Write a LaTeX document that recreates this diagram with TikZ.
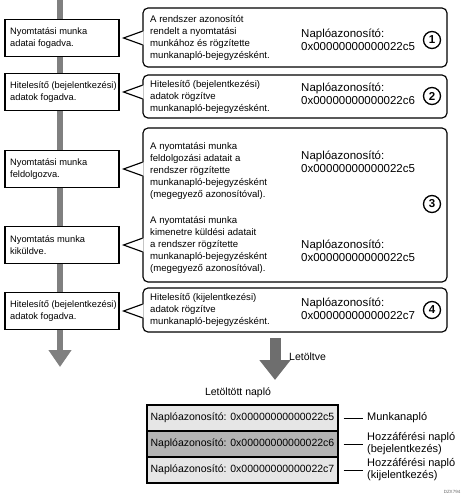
\documentclass[tikz,border=0pt]{standalone}
\usepackage{fontspec}
\setmainfont{Liberation Sans}
\usetikzlibrary{calc,arrows.meta}
\definecolor{barcol}{HTML}{808080}
\definecolor{arrcol}{HTML}{6E6E6E}
\definecolor{rowlight}{HTML}{E6E6E6}
\definecolor{rowdark}{HTML}{B4B4B4}
\begin{document}
\begin{tikzpicture}[x=1pt,y=-1pt,
  lbox/.style={draw,line width=1.15pt,fill=white,minimum width=114pt,minimum height=37pt,inner sep=0pt},
  ltext/.style={anchor=west,align=left,inner sep=0pt,font=\fontsize{9.3}{11.5}\selectfont},
  rbox/.style={draw,line width=1.15pt,fill=white,rounded corners=5pt,minimum width=304pt,inner sep=0pt},
  ctext/.style={anchor=west,align=left,inner sep=0pt,font=\fontsize{9.6}{12}\selectfont},
  idtext/.style={anchor=west,align=left,inner sep=0pt,font=\fontsize{11.5}{13.5}\selectfont},
  num/.style={circle,draw,line width=1.3pt,minimum size=17pt,inner sep=0pt,font=\fontsize{11.5}{12}\selectfont\bfseries},
  rowbox/.style={draw,line width=1.15pt,minimum width=191pt,minimum height=26pt,inner sep=0pt,font=\fontsize{10.5}{12}\selectfont},
  sidelab/.style={anchor=west,align=left,inner sep=0pt,font=\fontsize{11}{12}\selectfont},
  plain/.style={inner sep=0pt,font=\fontsize{10.5}{12}\selectfont}
]
\useasboundingbox (0,0) rectangle (467,498);

% main time line
\coordinate (bartop) at (60,0);
\coordinate (barend) at (60,367);
\draw[barcol,line width=6.8pt,-{Triangle[width=22pt,length=17pt]}] (bartop) -- (barend);

% left boxes
\node[lbox] (l1) at (62,38) {};
\node[lbox] (l2) at (62,92) {};
\node[lbox] (l3) at (62,169) {};
\node[lbox] (l4) at (62,245) {};
\node[lbox] (l5) at (62,311) {};
\node[ltext] (lt1) at (10,38) {Nyomtatási munka\\adatai fogadva.};
\node[ltext] (lt2) at (10,92) {Hitelesítő (bejelentkezési)\\adatok fogadva.};
\node[ltext] (lt3) at (10,169) {Nyomtatási munka\\feldolgozva.};
\node[ltext] (lt4) at (10,245) {Nyomtatás munka\\kiküldve.};
\node[ltext] (lt5) at (10,311) {Hitelesítő (bejelentkezési)\\adatok fogadva.};

% right callout boxes
\node[rbox,minimum height=59pt] (r1) at (295,37.5) {};
\node[rbox,minimum height=43pt] (r2) at (295,96.5) {};
\node[rbox,minimum height=154pt] (r3) at (295,205) {};
\node[rbox,minimum height=44pt] (r4) at (295,310) {};

% callout pointers
\foreach \r/\l in {r1/l1,r2/l2,r3/l3,r3/l4,r4/l5}{
  \fill[white] ($(\r.west|-\l.east)+(1.3,-6.8)$) -- ($(\l.east)+(4,0)$) -- ($(\r.west|-\l.east)+(1.3,6.8)$) -- cycle;
  \draw[line width=1.15pt,line join=miter] ($(\r.west|-\l.east)+(0,-6.8)$) -- ($(\l.east)+(4,0)$) -- ($(\r.west|-\l.east)+(0,6.8)$);
}

% callout texts
\node[ctext] (c1) at (150,37.5) {A rendszer azonosítót\\rendelt a nyomtatási\\munkához és rögzítette\\munkanapló-bejegyzésként.};
\node[ctext] (c2) at (150,96.5) {Hitelesítő (bejelentkezési)\\adatok rögzítve\\munkanapló-bejegyzésként.};
\node[ctext] (c3a) at (150,171) {A nyomtatási munka\\feldolgozási adatait a\\rendszer rögzítette\\munkanapló-bejegyzésként\\(megegyező azonosítóval).};
\node[ctext] (c3b) at (150,245) {A nyomtatási munka\\kimenetre küldési adatait\\a rendszer rögzítette\\munkanapló-bejegyzésként\\(megegyező azonosítóval).};
\node[ctext] (c4) at (150,310) {Hitelesítő (kijelentkezési)\\adatok rögzítve\\munkanapló-bejegyzésként.};

\node[idtext] (i1) at (301,40) {Naplóazonosító:\\0x00000000000022c5};
\node[idtext] (i2) at (301,94) {Naplóazonosító:\\0x00000000000022c6};
\node[idtext] (i3a) at (301,162) {Naplóazonosító:\\0x00000000000022c5};
\node[idtext] (i3b) at (301,251) {Naplóazonosító:\\0x00000000000022c5};
\node[idtext] (i4) at (301,309) {Naplóazonosító:\\0x00000000000022c7};

\node[num] (n1) at (432,40) {1};
\node[num] (n2) at (432,96) {2};
\node[num] (n3) at (432,204) {3};
\node[num] (n4) at (432,310) {4};

% download arrow
\coordinate (dtop) at (275,338);
\coordinate (dend) at (275,380);
\draw[arrcol,line width=11pt,-{Triangle[width=30pt,length=20pt]}] (dtop) -- (dend);
\node[plain,anchor=west] (let) at (289,357) {Letöltve};

% downloaded log
\node[plain] (title) at (238,393) {Letöltött napló};
\node[rowbox,fill=rowlight] (row1) at (242.5,418) {Naplóazonosító: 0x00000000000022c5};
\node[rowbox,fill=rowdark] (row2) at (242.5,444) {Naplóazonosító: 0x00000000000022c6};
\node[rowbox,fill=rowlight] (row3) at (242.5,470) {Naplóazonosító: 0x00000000000022c7};

\node[sidelab] (s1) at (367,418) {Munkanapló};
\node[sidelab] (s2) at (367,444) {Hozzáférési napló\\(bejelentkezés)};
\node[sidelab] (s3) at (367,470) {Hozzáférési napló\\(kijelentkezés)};
\foreach \a/\b in {row1/s1,row2/s2,row3/s3}{
  \draw[line width=0.9pt] ([xshift=5pt]\a.east) -- ([xshift=-4pt]\a.east-|\b.west);
}
\node[inner sep=0pt,font=\fontsize{4.5}{5}\selectfont,text=black!60] (code) at (452,492) {DZX794};
\end{tikzpicture}
\end{document}
